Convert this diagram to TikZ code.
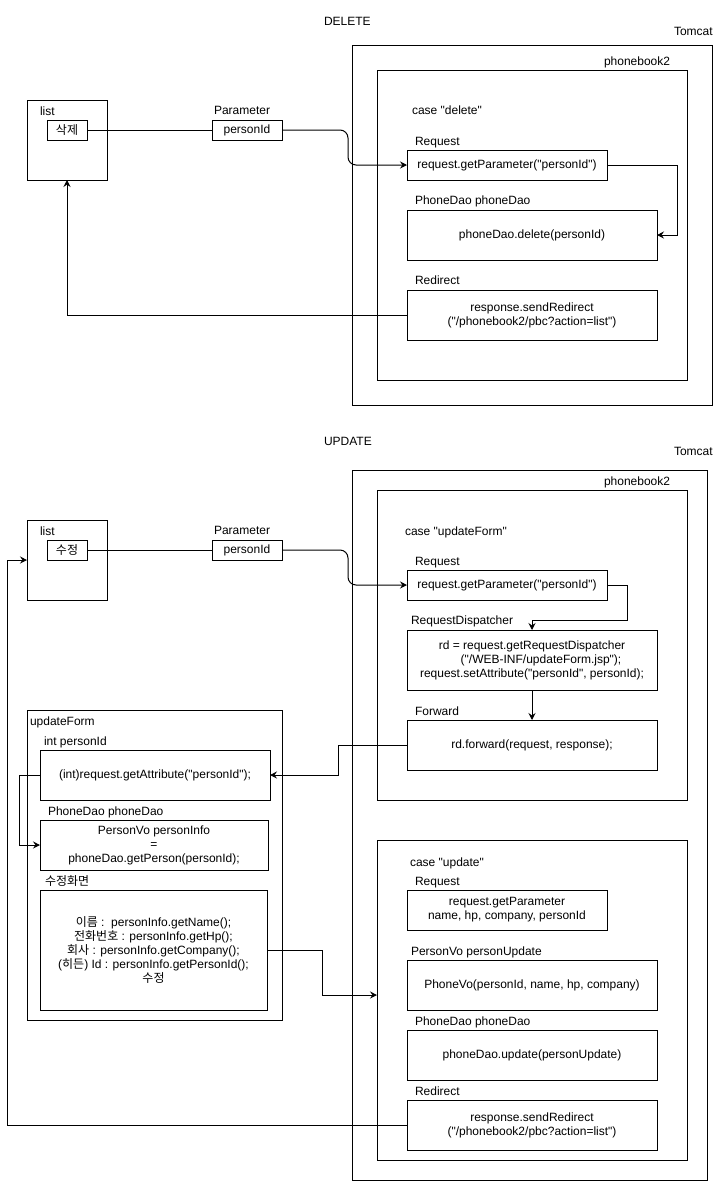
\documentclass[tikz,border=0pt]{standalone}
\usepackage{fontspec}
\setmainfont{Liberation Sans}[Ligatures=TeXOff]
\newfontfamily\kr{Noto Sans CJK KR}
\usetikzlibrary{arrows.meta}
\begin{document}
\begin{tikzpicture}[x=1pt,y=-1pt,
  every node/.style={font=\fontsize{12pt}{14pt}\selectfont, inner sep=0pt, outer sep=0pt},
  box/.style={draw, line width=1pt, anchor=north west, align=center},
  lbl/.style={anchor=west, text height=10.9pt, text depth=2.5pt},
  conn/.style={line width=1pt},
  arr/.style={conn, -{Stealth[length=7pt,width=7pt,inset=2.5pt]}},
]
\useasboundingbox (0,0) rectangle (713,1181);

% ================= DELETE =================
\node[lbl] (tDel) at (324,21) {DELETE};
\node[lbl] (tTom1) at (674,31) {Tomcat};
\node[box, minimum width=360pt, minimum height=360pt] (tom1) at (352,45) {};
\node[lbl] (tPb1) at (604,61) {phonebook2};
\node[box, minimum width=310pt, minimum height=310pt] (pb1) at (377,70) {};

\node[box, minimum width=80pt, minimum height=80pt] (list1) at (27,100) {};
\node[lbl] (tList1) at (40,111) {list};
\node[box, minimum width=40pt, minimum height=20pt] (del) at (47,120) {\kr 삭제};

\node[lbl] (tPar1) at (214,110) {Parameter};
\node[box, minimum width=70pt, minimum height=20pt] (pid1) at (212,120) {personId};

\node[lbl] (tCase1) at (412,110) {case "delete"};
\node[lbl] (tReq1) at (415,141) {Request};
\node[box, minimum width=200pt, minimum height=30pt] (req1) at (407,150) {request.getParameter("personId")};
\node[lbl] (tDao1) at (415,200) {PhoneDao phoneDao};
\node[box, minimum width=250pt, minimum height=50pt] (dao1) at (407,210) {phoneDao.delete(personId)};
\node[lbl] (tRed1) at (415,280) {Redirect};
\node[box, minimum width=250pt, minimum height=50pt] (redir1) at (407,290) {response.sendRedirect\\("/phonebook2/pbc?action=list")};

\draw[conn] (del.east) -- (pid1.west);
\draw[arr, rounded corners=8pt] (pid1.east) -| (348,165) -- (req1.west);
\draw[arr] (req1.east) -- ++(70,0) |- (dao1.east);
\draw[arr] (redir1.west) -| (list1.south);

% ================= UPDATE =================
\node[lbl] (tUpd) at (324,441) {UPDATE};
\node[lbl] (tTom2) at (674,451) {Tomcat};
\node[box, minimum width=355pt, minimum height=710pt] (tom2) at (352,470) {};
\node[lbl] (tPb2) at (604,481) {phonebook2};
\node[box, minimum width=310pt, minimum height=310pt] (pb2) at (377,490) {};

\node[box, minimum width=80pt, minimum height=80pt] (list2) at (27,520) {};
\node[lbl] (tList2) at (40,531) {list};
\node[box, minimum width=40pt, minimum height=20pt] (edt) at (47,540) {\kr 수정};

\node[lbl] (tPar2) at (214,530) {Parameter};
\node[box, minimum width=70pt, minimum height=20pt] (pid2) at (212,540) {personId};

\node[lbl] (tCase2) at (405,531) {case "updateForm"};
\node[lbl] (tReq2) at (415,561) {Request};
\node[box, minimum width=200pt, minimum height=30pt] (req2) at (407,570) {request.getParameter("personId")};
\node[lbl] (tRd) at (411,620) {RequestDispatcher};
\node[box, minimum width=250pt, minimum height=60pt] (rd) at (407,630) {rd = request.getRequestDispatcher\\\hspace*{18pt}("/WEB-INF/updateForm.jsp");\\request.setAttribute("personId", personId);};
\node[lbl] (tFwd) at (415,711) {Forward};
\node[box, minimum width=250pt, minimum height=50pt] (fwd) at (407,720) {rd.forward(request, response);};

% updateForm
\node[box, minimum width=255pt, minimum height=310pt] (uf) at (27,710) {};
\node[lbl] (tUf) at (30,721) {updateForm};
\node[lbl] (tIntp) at (44,741) {int personId};
\node[box, minimum width=230pt, minimum height=50pt] (intp) at (40,750) {(int)request.getAttribute("personId");};
\node[lbl] (tDao2) at (48,811) {PhoneDao phoneDao};
\node[box, minimum width=228pt, minimum height=50pt] (pvo) at (40,820) {PersonVo personInfo\\=\\phoneDao.getPerson(personId);};
\node[lbl] (tEdit) at (45,881) {\kr 수정화면};
\node[box, minimum width=227pt, minimum height=120pt] (edit) at (40,890) {{\kr 이름} :\ \ personInfo.getName();\\{\kr 전화번호} : personInfo.getHp();\\{\kr 회사} : personInfo.getCompany();\\({\kr 히든}) Id : personInfo.getPersonId();\\{\kr 수정}};

% case update
\node[box, minimum width=310pt, minimum height=320pt] (upd) at (377,840) {};
\node[lbl] (tCase3) at (410,862) {case "update"};
\node[lbl] (tReq3) at (415,881) {Request};
\node[box, minimum width=200pt, minimum height=40pt] (req3) at (407,890) {request.getParameter\\name, hp, company, personId};
\node[lbl] (tPvu) at (411,951) {PersonVo personUpdate};
\node[box, minimum width=250pt, minimum height=50pt] (pvu) at (407,960) {PhoneVo(personId, name, hp, company)};
\node[lbl] (tDao3) at (415,1021) {PhoneDao phoneDao};
\node[box, minimum width=250pt, minimum height=50pt] (dao3) at (407,1030) {phoneDao.update(personUpdate)};
\node[lbl] (tRed3) at (415,1091) {Redirect};
\node[box, minimum width=250pt, minimum height=50pt] (redir3) at (407,1100) {response.sendRedirect\\("/phonebook2/pbc?action=list")};

% connectors
\draw[conn] (edt.east) -- (pid2.west);
\draw[arr, rounded corners=8pt] (pid2.east) -| (348,585) -- (req2.west);
\draw[arr] (req2.east) -- ++(20,0) |- ([yshift=10pt]rd.north) -- (rd.north);
\draw[arr] (rd.south) -- (fwd.north);
\draw[arr] (fwd.west) -- (338,745) |- (intp.east);
\draw[arr] (intp.west) -- (19,775) |- (pvo.west);
\draw[arr] (edit.east) -- (322,950) |- ([yshift=5pt]upd.west);
\draw[arr] (redir3.west) -- (7.5,1125) |- (list2.west);

\end{tikzpicture}
\end{document}
